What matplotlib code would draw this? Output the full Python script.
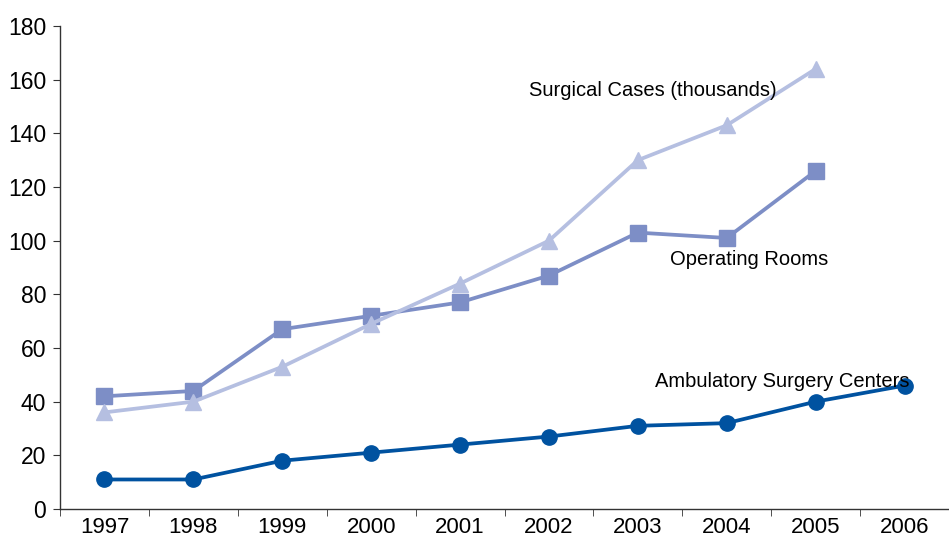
import matplotlib.pyplot as plt
import numpy as np

plt.rcParams['font.family'] = ['Liberation Sans', 'DejaVu Sans']

years = ["1997", "1998", "1999", "2000", "2001", "2002", "2003", "2004", "2005", "2006"]
asc = [11, 11, 18, 21, 24, 27, 31, 32, 40, 46]
oper_rooms = [42, 44, 67, 72, 77, 87, 103, 101, 126]
surg_cases = [36, 40, 53, 69, 84, 100, 130, 143, 164]

c_asc = "#0052a0"
c_or = "#7d8ec6"
c_sc = "#b5bfe1"

fig = plt.figure(figsize=(9.49, 5.38), dpi=100)
ax = fig.add_axes([60 / 949, 29 / 538, 889 / 949, 483 / 538])

x = np.arange(len(years))
ax.plot(x, asc, color=c_asc, lw=2.7, marker='o', ms=11, zorder=3)
ax.plot(x[:len(oper_rooms)], oper_rooms, color=c_or, lw=2.7, marker='s', ms=11, zorder=2)
ax.plot(x[:len(surg_cases)], surg_cases, color=c_sc, lw=2.7, marker='^', ms=11, zorder=2.5)

# подписи линий вместо легенды
ax.text(6.17, 156, "Surgical Cases (thousands)", fontsize=14.5, ha='center', va='center')
ax.text(7.25, 92.8, "Operating Rooms", fontsize=14.5, ha='center', va='center')
ax.text(7.62, 47.5, "Ambulatory Surgery Centers", fontsize=14.5, ha='center', va='center')

ax.set_ylim(0, 180)
ax.set_xlim(-0.5, 9.39)
ax.set_yticks(range(0, 181, 20))
ax.set_xticks(x)
ax.set_xticklabels(years)
ax.set_xticks(np.arange(-0.5, 10, 1), minor=True)
ax.tick_params(axis='x', which='major', length=0, labelsize=16, pad=6)
ax.tick_params(axis='x', which='minor', length=5, color='#333333')
ax.tick_params(axis='y', length=5, labelsize=16.5, color='#333333', pad=5)

for s in ['top', 'right']:
    ax.spines[s].set_visible(False)
for s in ['left', 'bottom']:
    ax.spines[s].set_color('#333333')
    ax.spines[s].set_linewidth(1)

fig.savefig("out.png", dpi=100)
